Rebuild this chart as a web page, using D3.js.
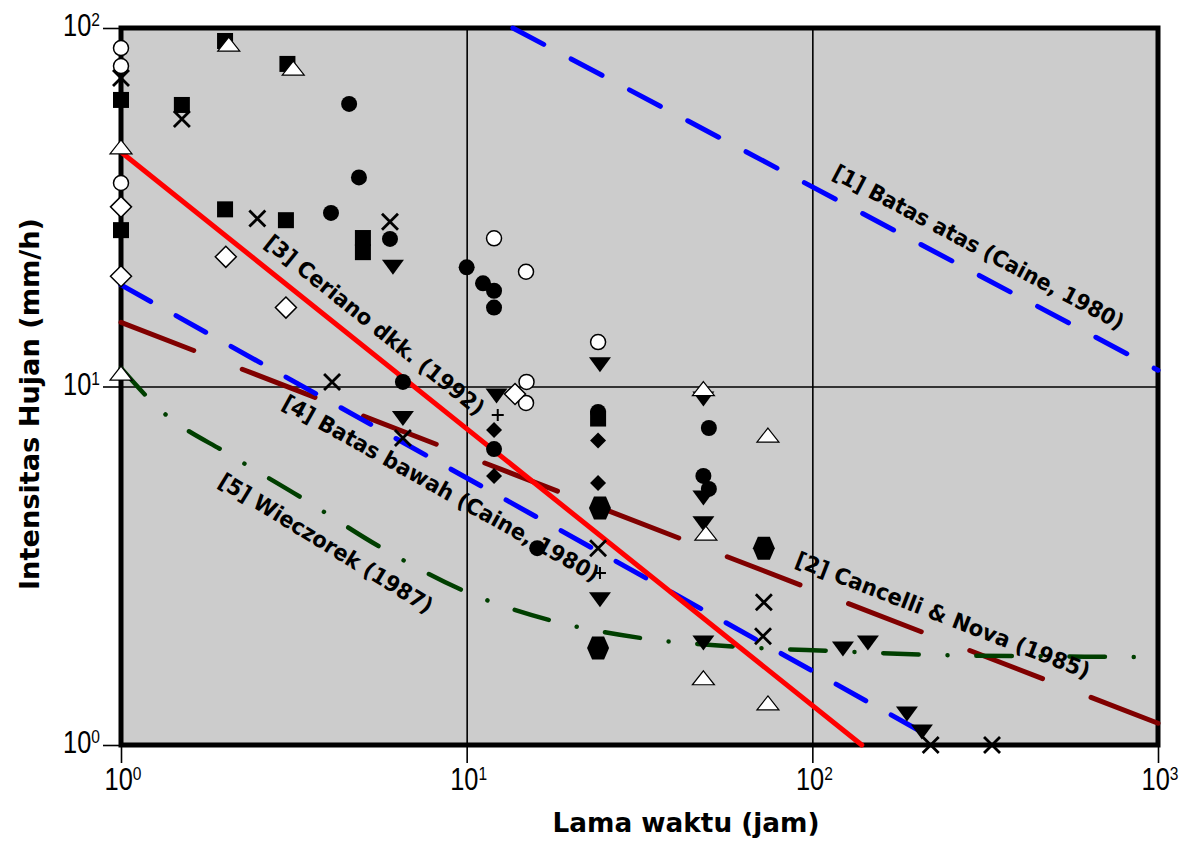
<!DOCTYPE html>
<html><head><meta charset="utf-8">
<script src="https://cdn.jsdelivr.net/npm/d3@7"></script>
<style>html,body{margin:0;padding:0;background:#fff;} svg{display:block;}</style>
</head><body>
<svg id="chart" width="1191" height="841"></svg>
<script>
// ---------------- DATA ----------------
const xTickValues = [1, 10, 100, 1000];
const yTickValues = [1, 10, 100];
const xTitle = "Lama waktu (jam)";
const yTitle = "Intensitas Hujan (mm/h)";

// threshold lines: [duration (jam), intensity (mm/h)]
const line1BatasAtas   = [[13.6, 100], [1000, 11.1]];
const line2Cancelli    = [[1, 15.1], [1000, 1.15]];
const line3Ceriano     = [[1, 45.1], [139, 1]];
const line4BatasBawah  = [[1, 19.2], [242, 1]];
const line5Wieczorek   = [[1, 11.26], [1.3, 8.6], [2.07, 6.44], [3.3, 4.92], [5.61, 3.57], [10, 2.67],
                          [17.4, 2.23], [31.7, 1.99], [60.5, 1.88], [112, 1.83], [250, 1.78], [1000, 1.76]];
const lineLabels = ["[1] Batas atas (Caine, 1980)", "[2] Cancelli & Nova (1985)", "[3] Ceriano dkk. (1992)",
                    "[4] Batas bawah (Caine, 1980)", "[5] Wieczorek (1987)"];

// observed events: [duration, intensity]
const filledSquares = [[1, 63], [1, 27.3], [2.0, 92.0], [3.03, 79.4], [1.5, 61.0], [2.0, 31.2], [3.0, 29.1],
                       [5.01, 25.95], [5.01, 23.7], [24, 8.14]];
const filledCircles = [[4.57, 61.4], [4.88, 38.3], [4.05, 30.5], [6.0, 25.8], [10.0, 21.5], [11.15, 19.4],
                       [12.0, 18.5], [12.0, 16.6], [6.54, 10.3], [12.0, 6.69], [16.0, 3.54], [24, 8.49],
                       [50.2, 7.66], [48.4, 5.63], [50.2, 5.18]];
const openCircles   = [[1, 87.9], [1, 78.3], [1, 36.95], [12.0, 25.9], [14.85, 20.9], [24, 13.3],
                       [14.9, 10.3], [14.85, 9.0]];
const crosses       = [[1, 72.5], [1.5, 55.7], [2.48, 29.4], [6.0, 28.8], [4.08, 10.3], [6.54, 7.18],
                       [24, 3.54], [72.4, 2.5], [72, 2.01], [220, 1.0], [331, 1.0]];
const openDiamonds  = [[1, 31.7], [1, 20.3], [2.01, 23.0], [3.0, 16.6], [13.8, 9.53]];
const filledDiamonds= [[12, 7.56], [12, 5.63], [24, 7.07], [24, 5.38]];
const invTriangles  = [[6.12, 21.5], [24.3, 11.5], [12.2, 9.41], [6.54, 8.14], [48.4, 9.23], [48.4, 4.89],
                       [48.4, 4.14], [24.3, 2.54], [48.4, 1.925], [122.6, 1.853], [144.8, 1.925],
                       [187.8, 1.22], [207.5, 1.087]];
const openTriangles = [[1, 46.6], [1, 10.9], [2.05, 90.2], [3.15, 77.3], [48.4, 9.87], [74.4, 7.32],
                       [49.2, 3.9], [48.4, 1.54], [74.4, 1.31]];
const hexagons      = [[24.3, 4.58], [24, 1.865], [72.4, 3.54]];
const plusMarks     = [[12.3, 8.33], [24.3, 3.02]];

// ---------------- CHART ----------------
const W = 1191, H = 841;
const margin = {left: 121, top: 28, right: 33, bottom: 96};
const svg = d3.select("#chart");
const x = d3.scaleLog().domain([1, 1000]).range([margin.left, W - margin.right]);
const y = d3.scaleLog().domain([1, 100]).range([H - margin.bottom, margin.top]);
const x0 = x.range()[0], x1 = x.range()[1], y0 = y.range()[0], y1 = y.range()[1];

const tickFont = "'Liberation Sans','Arial',sans-serif";
const textFont = "'DejaVu Sans','Liberation Sans',sans-serif";

// plot background
svg.append("rect").attr("x", x0).attr("y", y1).attr("width", x1 - x0).attr("height", y0 - y1)
  .attr("fill", "#cccccc");

// outward ticks
const gx = svg.append("g").attr("transform", `translate(0,${y0})`)
  .call(d3.axisBottom(x).tickValues(xTickValues).tickSizeInner(18).tickSizeOuter(0).tickFormat(""));
gx.select(".domain").remove();
gx.selectAll("line").attr("stroke", "#000").attr("stroke-width", 1.6);
const gy = svg.append("g").attr("transform", `translate(${x0},0)`)
  .call(d3.axisLeft(y).tickValues(yTickValues).tickSizeInner(18).tickSizeOuter(0).tickFormat(""));
gy.select(".domain").remove();
gy.selectAll("line").attr("stroke", "#000").attr("stroke-width", 1.6);

// inner decade grid
svg.append("g").attr("transform", `translate(0,${y1})`)
  .call(d3.axisBottom(x).tickValues(xTickValues.slice(1, -1)).tickSize(y0 - y1).tickFormat(""))
  .call(g => g.select(".domain").remove())
  .selectAll("line").attr("stroke", "#000").attr("stroke-width", 1.6);
svg.append("g").attr("transform", `translate(${x0},0)`)
  .call(d3.axisRight(y).tickValues(yTickValues.slice(1, -1)).tickSize(x1 - x0).tickFormat(""))
  .call(g => g.select(".domain").remove())
  .selectAll("line").attr("stroke", "#000").attr("stroke-width", 1.6);

// frame
svg.append("rect").attr("x", x0).attr("y", y1).attr("width", x1 - x0).attr("height", y0 - y1)
  .attr("fill", "none").attr("stroke", "#000").attr("stroke-width", 5);

// tick labels (10^n)
function powLabel(sel, v) {
  sel.append("tspan").text("10").attr("font-size", 31);
  sel.append("tspan").text(String(Math.round(Math.log10(v)))).attr("font-size", 19).attr("dy", -10);
}
xTickValues.forEach(v => {
  const t = svg.append("text").attr("transform", `translate(${x(v) + 2},${y0 + 45}) scale(0.82,1)`)
    .attr("text-anchor", "middle").attr("font-family", tickFont).attr("fill", "#000");
  powLabel(t, v);
});
yTickValues.forEach(v => {
  const t = svg.append("text").attr("transform", `translate(${x0 - 21},${y(v) + 8}) scale(0.82,1)`)
    .attr("text-anchor", "end").attr("font-family", tickFont).attr("fill", "#000");
  powLabel(t, v);
});

// axis titles
svg.append("text").attr("x", 686).attr("y", 832).attr("text-anchor", "middle")
  .attr("font-family", textFont).attr("font-weight", "bold").attr("font-size", 26)
  .attr("textLength", 267).attr("lengthAdjust", "spacingAndGlyphs").text(xTitle);
svg.append("text").attr("transform", `translate(39,404) rotate(-90)`).attr("text-anchor", "middle")
  .attr("font-family", textFont).attr("font-weight", "bold").attr("font-size", 26)
  .attr("textLength", 372).attr("lengthAdjust", "spacingAndGlyphs").text(yTitle);

// lines
const lineGen = d3.line().x(d => x(d[0])).y(d => y(d[1]));
const curveGen = d3.line().x(d => x(d[0])).y(d => y(d[1])).curve(d3.curveMonotoneX);
const lines = [
  {data: line1BatasAtas, color: "#0000ff", width: 5, dash: "35,31", gen: lineGen},
  {data: line2Cancelli, color: "#800000", width: 5, dash: "78,52", gen: lineGen},
  {data: line5Wieczorek, color: "#003f00", width: 4.5, dash: "35.5,28.8,0.01,28.8", gen: curveGen},
  {data: line4BatasBawah, color: "#0000ff", width: 5, dash: "34,29", gen: lineGen},
  {data: line3Ceriano, color: "#ff0000", width: 5, dash: null, gen: lineGen},
];
lines.forEach(l => {
  svg.append("path").attr("d", l.gen(l.data)).attr("fill", "none").attr("stroke", l.color)
    .attr("stroke-width", l.width).attr("stroke-linecap", "round")
    .attr("stroke-dasharray", l.dash);
});

// markers
function markers(data, draw) {
  const g = svg.append("g");
  data.forEach(d => draw(g.append("g").attr("transform", `translate(${x(d[0])},${y(d[1])})`)));
}
const tri = (w, h) => `M0,${-h / 2}L${w / 2},${h / 2}L${-w / 2},${h / 2}Z`;
const triDn = (w, h) => `M${-w / 2},${-h / 2}L${w / 2},${-h / 2}L0,${h / 2}Z`;
const dia = r => `M0,${-r}L${r},0L0,${r}L${-r},0Z`;

markers(filledSquares, g => g.append("rect").attr("x", -8).attr("y", -8).attr("width", 16).attr("height", 16).attr("fill", "#000"));
markers(filledCircles, g => g.append("circle").attr("r", 8).attr("fill", "#000"));
markers(openCircles, g => g.append("circle").attr("r", 7.5).attr("fill", "#fff").attr("stroke", "#000").attr("stroke-width", 1.5));
markers(openDiamonds, g => g.append("path").attr("d", dia(10.5)).attr("fill", "#fff").attr("stroke", "#000").attr("stroke-width", 1.5));
markers(filledDiamonds, g => g.append("path").attr("d", dia(8)).attr("fill", "#000"));
markers(hexagons, g => g.append("path").attr("d", "M-11,0L-6,-11.5L6,-11.5L11,0L6,11.5L-6,11.5Z").attr("fill", "#000"));
markers(invTriangles, g => g.append("path").attr("d", triDn(22, 15)).attr("fill", "#000"));
markers(openTriangles, g => g.append("path").attr("d", tri(22, 14)).attr("fill", "#fff").attr("stroke", "#000").attr("stroke-width", 1.2));
markers(crosses, g => g.append("path").attr("d", "M-8,-8L8,8M-8,8L8,-8").attr("stroke", "#000").attr("stroke-width", 2.8));
markers(plusMarks, g => g.append("path").attr("d", "M-6,0L6,0M0,-6L0,6").attr("stroke", "#000").attr("stroke-width", 2));

// line labels (placed along their lines)
function angleOf(a, b) {
  return Math.atan2(y(b[1]) - y(a[1]), x(b[0]) - x(a[0])) * 180 / Math.PI;
}
const labelLayout = [
  {text: lineLabels[0], at: [303, 24.5], ang: angleOf(line1BatasAtas[0], line1BatasAtas[1]), len: 326},
  {text: lineLabels[1], at: [238.7, 2.305], ang: angleOf(line2Cancelli[0], line2Cancelli[1]), len: 314},
  {text: lineLabels[2], at: [5.43, 14.85], ang: angleOf(line3Ceriano[0], line3Ceriano[1]), len: 274},
  {text: lineLabels[3], at: [8.43, 5.21], ang: angleOf(line4BatasBawah[0], line4BatasBawah[1]), len: 359},
  {text: lineLabels[4], at: [3.92, 3.66], ang: angleOf(line5Wieczorek[2], line5Wieczorek[4]), len: 247},
];
labelLayout.forEach(l => {
  svg.append("text")
    .attr("transform", `translate(${x(l.at[0])},${y(l.at[1])}) rotate(${l.ang})`)
    .attr("text-anchor", "middle").attr("dy", "0.36em")
    .attr("font-family", textFont).attr("font-weight", "bold").attr("font-size", 22)
    .attr("textLength", l.len).attr("lengthAdjust", "spacingAndGlyphs")
    .attr("fill", "#000").text(l.text);
});
</script>
</body></html>
